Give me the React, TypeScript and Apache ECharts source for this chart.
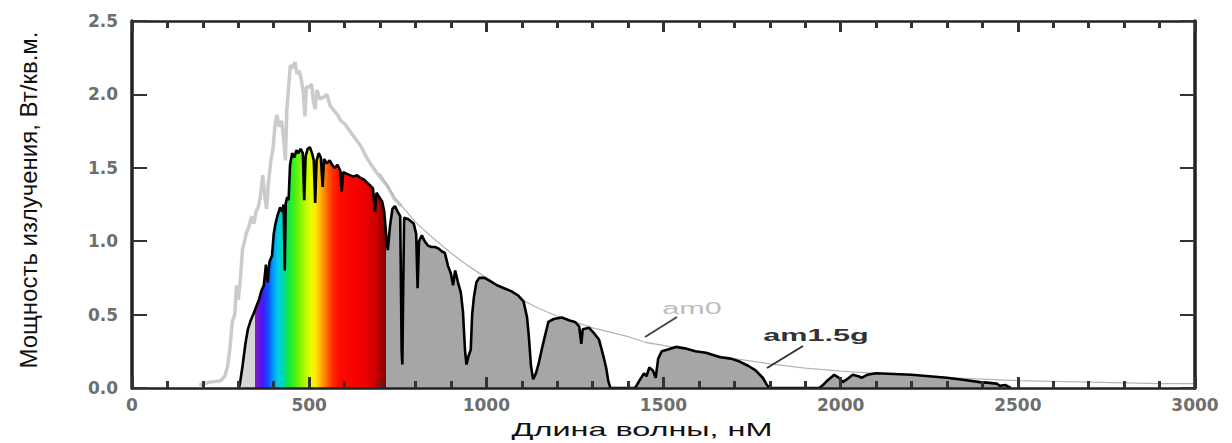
import React, { useEffect, useRef } from "react";
import * as echarts from "echarts";

// ---- data ----
const xTickValues = [0, 500, 1000, 1500, 2000, 2500, 3000];
const yTickValues = [0, 0.5, 1.0, 1.5, 2.0, 2.5];

// am0 (extraterrestrial) – jagged UV/visible part [nm, W/m2/nm]
const am0Visible: [number, number][] = [
  [190, 0.02], [220, 0.04], [250, 0.05], [262, 0.08], [270, 0.15], [276, 0.26], [283, 0.45], [290, 0.5],
  [295, 0.7], [300, 0.6], [306, 0.75], [312, 0.95], [318, 1.0], [322, 1.05], [330, 1.1], [338, 1.17],
  [344, 1.12], [350, 1.2], [356, 1.23], [362, 1.3], [369, 1.45], [375, 1.3], [380, 1.22], [385, 1.4],
  [392, 1.55], [398, 1.63], [404, 1.8], [409, 1.86], [415, 1.78], [422, 1.82], [428, 1.7], [433, 1.55],
  [437, 1.9], [442, 2.05], [447, 2.2], [453, 2.18], [460, 2.22], [466, 2.14], [472, 2.16], [478, 2.1],
  [484, 2.0], [488, 1.85], [492, 2.05], [500, 2.05], [507, 2.07], [512, 1.95], [517, 1.9], [522, 2.03],
  [530, 1.97], [540, 1.98], [550, 2.0], [560, 1.92], [570, 1.89], [580, 1.86], [590, 1.82], [600, 1.8],
  [615, 1.75], [630, 1.7], [645, 1.65], [660, 1.58], [675, 1.52], [690, 1.47], [705, 1.42], [720, 1.38],
  [740, 1.29], [760, 1.24]
];

// am0 – smooth infrared part
const am0Infrared: [number, number][] = [
  [700, 1.46], [740, 1.3], [800, 1.13], [850, 1.02], [900, 0.92], [950, 0.83], [1000, 0.75], [1050, 0.67],
  [1100, 0.6], [1150, 0.54], [1200, 0.49], [1250, 0.45], [1300, 0.41], [1350, 0.38], [1400, 0.35],
  [1450, 0.31], [1500, 0.29], [1600, 0.245], [1700, 0.2], [1800, 0.165], [1900, 0.135], [2000, 0.115],
  [2100, 0.1], [2200, 0.085], [2300, 0.07], [2400, 0.06], [2500, 0.05], [2600, 0.045], [2700, 0.04],
  [2800, 0.035], [2900, 0.03], [3000, 0.03]
];

// am1.5g (ground level, global)
const am15g: [number, number][] = [
  [300, 0], [304, 0.02], [312, 0.15], [320, 0.3], [327, 0.4], [335, 0.46], [342, 0.5], [350, 0.55],
  [358, 0.6], [365, 0.66], [372, 0.7], [378, 0.84], [383, 0.72], [388, 0.86], [395, 0.9], [400, 1.05],
  [405, 1.12], [410, 1.17], [418, 1.23], [424, 1.2], [428, 1.25], [431, 0.8], [434, 1.26], [438, 1.3],
  [442, 1.28], [446, 1.52], [452, 1.6], [458, 1.57], [464, 1.62], [470, 1.6], [476, 1.63], [482, 1.6],
  [486, 1.28], [490, 1.58], [496, 1.63], [502, 1.64], [508, 1.6], [513, 1.55], [517, 1.26], [521, 1.55],
  [527, 1.6], [533, 1.57], [538, 1.37], [542, 1.56], [550, 1.53], [558, 1.55], [565, 1.52], [572, 1.5],
  [580, 1.52], [588, 1.48], [592, 1.34], [596, 1.47], [605, 1.46], [615, 1.45], [625, 1.44], [635, 1.45],
  [645, 1.43], [655, 1.42], [663, 1.4], [672, 1.38], [680, 1.36], [686, 1.2], [690, 1.33], [698, 1.3],
  [706, 1.27], [712, 1.2], [717, 1.05], [722, 0.94], [728, 1.1], [735, 1.22], [742, 1.24], [750, 1.2],
  [757, 1.17], [761, 0.25], [763, 0.16], [765, 0.6], [768, 1.16], [780, 1.15], [795, 1.12], [802, 1.05],
  [806, 0.68], [810, 1.0], [818, 1.04], [826, 1.0], [835, 0.97], [845, 0.96], [855, 0.96], [865, 0.95],
  [875, 0.93], [883, 0.92], [892, 0.83], [900, 0.78], [906, 0.7], [912, 0.8], [920, 0.72], [928, 0.65],
  [934, 0.52], [940, 0.25], [944, 0.16], [950, 0.22], [956, 0.26], [960, 0.5], [965, 0.62], [972, 0.72],
  [980, 0.75], [995, 0.75], [1010, 0.73], [1030, 0.7], [1050, 0.68], [1070, 0.66], [1090, 0.63],
  [1105, 0.59], [1115, 0.48], [1120, 0.35], [1126, 0.15], [1132, 0.06], [1140, 0.1], [1148, 0.17],
  [1158, 0.28], [1165, 0.35], [1175, 0.45], [1190, 0.47], [1213, 0.48], [1235, 0.46], [1250, 0.45],
  [1262, 0.42], [1268, 0.3], [1272, 0.4], [1290, 0.41], [1305, 0.37], [1318, 0.33], [1330, 0.22],
  [1338, 0.14], [1344, 0.05], [1350, 0], [1420, 0], [1432, 0.05], [1445, 0.1], [1452, 0.08], [1460, 0.14],
  [1470, 0.12], [1478, 0.07], [1485, 0.2], [1495, 0.25], [1510, 0.26], [1535, 0.28], [1560, 0.27],
  [1590, 0.25], [1620, 0.24], [1660, 0.21], [1690, 0.2], [1715, 0.18], [1740, 0.15], [1760, 0.12],
  [1780, 0.07], [1792, 0.02], [1800, 0], [1940, 0], [1950, 0.02], [1962, 0.05], [1972, 0.07], [1982, 0.09],
  [1995, 0.07], [2006, 0.04], [2018, 0.06], [2034, 0.09], [2050, 0.08], [2060, 0.07], [2075, 0.09],
  [2100, 0.1], [2150, 0.095], [2200, 0.09], [2250, 0.08], [2300, 0.07], [2350, 0.055], [2393, 0.04],
  [2420, 0.035], [2440, 0.03], [2450, 0.015], [2465, 0.02], [2480, 0]
];

// colour of the visible band under the am1.5g curve, by wavelength
const spectrumStops: [number, string][] = [
  [300, "#d6d6d6"], [346, "#d6d6d6"], [346, "#7b22c4"], [362, "#6a10e0"], [370, "#3a1cff"],
  [385, "#1050ff"], [398, "#0098ff"], [412, "#00cce8"], [428, "#00d8a0"], [442, "#10e840"],
  [462, "#50f010"], [485, "#a8f800"], [505, "#e8ff00"], [518, "#ffea00"], [532, "#ffb400"],
  [548, "#ff7000"], [565, "#ff3000"], [585, "#ff0a00"], [650, "#f20000"], [685, "#d00000"],
  [705, "#a00000"], [718, "#7a0000"], [718, "#a6a6a6"], [2480, "#a6a6a6"]
];

const yAxisTitle = "Мощность излучения, Вт/кв.м.";
const xAxisTitle = "Длина волны, нМ";

export default function App() {
  const ref = useRef<HTMLDivElement>(null);

  useEffect(() => {
    document.body.style.margin = "0";
    if (!ref.current) return;
    const chart = echarts.init(ref.current, undefined, { renderer: "svg" });

    const xs = am15g.map((p) => p[0]);
    const xMin = Math.min(...xs);
    const xMax = Math.max(...xs);
    const gradient = new echarts.graphic.LinearGradient(
      0, 0, 1, 0,
      spectrumStops.map(([w, c]) => ({ offset: (w - xMin) / (xMax - xMin), color: c }))
    );

    const labelFont = {
      fontFamily: "DejaVu Sans",
      fontWeight: "bold",
      fontSize: 17,
      color: "#6e6e6e",
    };

    const xTick = { show: true, inside: true, length: 11, lineStyle: { color: "#333", width: 3 } };
    const xMinor = { show: true, splitNumber: 5, length: 7, lineStyle: { color: "#333", width: 3 } };
    const yTick = { show: true, inside: true, length: 15, lineStyle: { color: "#333", width: 2 } };

    chart.setOption({
      animation: false,
      grid: { left: 132, top: 21, right: 37, bottom: 55 },
      xAxis: [
        {
          type: "value", position: "bottom", min: 0, max: 3000, interval: 500, z: 5,
          axisLine: { show: true, lineStyle: { color: "#222", width: 2.5 } },
          axisTick: xTick,
          minorTick: xMinor,
          splitLine: { show: false },
          axisLabel: { ...labelFont, margin: 8, formatter: (v: number) => (xTickValues.includes(v) ? String(v) : "") },
        },
        {
          type: "value", position: "top", min: 0, max: 3000, interval: 500, z: 5,
          axisLine: { show: true, onZero: false, lineStyle: { color: "#222", width: 2.5 } },
          axisTick: xTick,
          minorTick: xMinor,
          splitLine: { show: false },
          axisLabel: { show: false },
        },
      ],
      yAxis: [
        {
          type: "value", position: "left", min: 0, max: 2.5, interval: 0.5, z: 5,
          axisLine: { show: true, lineStyle: { color: "#222", width: 3.5 } },
          axisTick: yTick,
          splitLine: { show: false },
          axisLabel: {
            ...labelFont, margin: 14,
            formatter: (v: number) => (yTickValues.some((t) => Math.abs(t - v) < 1e-9) ? v.toFixed(1) : ""),
          },
        },
        {
          type: "value", position: "right", min: 0, max: 2.5, interval: 0.5, z: 5,
          axisLine: { show: true, onZero: false, lineStyle: { color: "#222", width: 3.5 } },
          axisTick: yTick,
          splitLine: { show: false },
          axisLabel: { show: false },
        },
      ],
      series: [
        {
          name: "am0",
          type: "line",
          data: am0Visible,
          showSymbol: false,
          symbol: "none",
          lineStyle: { color: "#cbcbcb", width: 3.5 },
          z: 2,
        },
        {
          name: "am0",
          type: "line",
          data: am0Infrared,
          showSymbol: false,
          symbol: "none",
          lineStyle: { color: "#b5b5b5", width: 1.3 },
          z: 2,
        },
        {
          name: "am1.5g",
          type: "line",
          data: am15g,
          showSymbol: false,
          symbol: "none",
          lineStyle: { color: "#000", width: 2.6 },
          areaStyle: { color: gradient, opacity: 1 },
          z: 3,
        },
      ],
      graphic: [
        {
          type: "text", x: 28, y: 200, rotation: Math.PI / 2, z: 10,
          style: { text: yAxisTitle, fontFamily: "Liberation Sans", fontSize: 24, fill: "#111", align: "center", verticalAlign: "middle" },
        },
        {
          type: "text", x: 692, y: 308, scaleX: 1.8, z: 10,
          style: { text: "am0", fontFamily: "Liberation Sans", fontSize: 17, fill: "#bdbdbd", align: "center", verticalAlign: "middle" },
        },
        {
          type: "line", z: 10,
          shape: { x1: 645, y1: 337, x2: 677, y2: 317 },
          style: { stroke: "#444", lineWidth: 2 },
        },
        {
          type: "text", x: 816, y: 335, scaleX: 1.8, z: 10,
          style: { text: "am1.5g", fontFamily: "Liberation Sans", fontWeight: "bold", fontSize: 17, fill: "#333", align: "center", verticalAlign: "middle" },
        },
        {
          type: "line", z: 10,
          shape: { x1: 767, y1: 368, x2: 803, y2: 346 },
          style: { stroke: "#333", lineWidth: 2 },
        },
        {
          type: "text", x: 642, y: 430, scaleX: 1.8, z: 10,
          style: { text: xAxisTitle, fontFamily: "Liberation Sans", fontSize: 18, fill: "#111", align: "center", verticalAlign: "middle" },
        },
      ],
    });

    return () => chart.dispose();
  }, []);

  return <div ref={ref} style={{ width: 1232, height: 443 }} />;
}
